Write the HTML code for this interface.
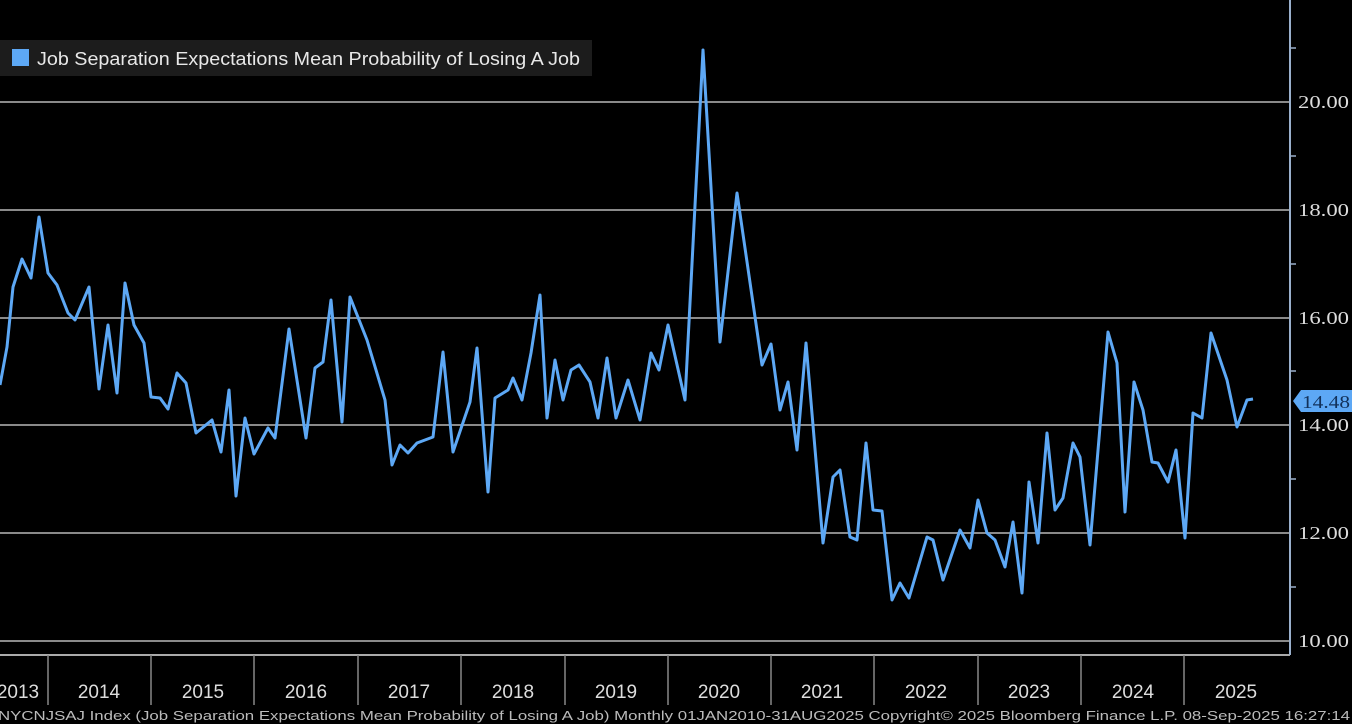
<!DOCTYPE html>
<html><head><meta charset="utf-8"><style>
html,body{margin:0;padding:0;background:#000;}
body{width:1352px;height:724px;overflow:hidden;position:relative;font-family:"Liberation Sans",sans-serif;}
</style></head><body>
<svg width="1352" height="724" viewBox="0 0 1352 724" xmlns="http://www.w3.org/2000/svg" style="position:absolute;left:0;top:0">
<rect width="1352" height="724" fill="#000"/>
<g stroke="#8a8a8a" stroke-width="2">
<line x1="0" y1="102" x2="1290" y2="102"/>
<line x1="0" y1="210" x2="1290" y2="210"/>
<line x1="0" y1="318" x2="1290" y2="318"/>
<line x1="0" y1="425" x2="1290" y2="425"/>
<line x1="0" y1="533" x2="1290" y2="533"/>
<line x1="0" y1="641" x2="1290" y2="641"/>
</g>
<line x1="0" y1="655" x2="1290" y2="655" stroke="#aaa" stroke-width="2"/>
<g stroke="#888" stroke-width="1.5">
<line x1="48" y1="655" x2="48" y2="705"/><line x1="151" y1="655" x2="151" y2="705"/>
<line x1="254" y1="655" x2="254" y2="705"/><line x1="358" y1="655" x2="358" y2="705"/>
<line x1="461" y1="655" x2="461" y2="705"/><line x1="565" y1="655" x2="565" y2="705"/>
<line x1="668" y1="655" x2="668" y2="705"/><line x1="771" y1="655" x2="771" y2="705"/>
<line x1="874" y1="655" x2="874" y2="705"/><line x1="978" y1="655" x2="978" y2="705"/>
<line x1="1081" y1="655" x2="1081" y2="705"/><line x1="1184" y1="655" x2="1184" y2="705"/>
</g>
<line x1="1290" y1="0" x2="1290" y2="655" stroke="#9ab0cc" stroke-width="2"/>
<g stroke="#9ab0cc" stroke-width="1.5">
<line x1="1290" y1="48" x2="1296" y2="48"/><line x1="1290" y1="156" x2="1296" y2="156"/>
<line x1="1290" y1="264" x2="1296" y2="264"/><line x1="1290" y1="371" x2="1296" y2="371"/>
<line x1="1290" y1="479" x2="1296" y2="479"/><line x1="1290" y1="587" x2="1296" y2="587"/>
</g>
<g fill="#ddd" font-family="Liberation Serif, serif" font-size="18">
<text x="1298" y="108" textLength="51" lengthAdjust="spacingAndGlyphs">20.00</text><text x="1298" y="216" textLength="51" lengthAdjust="spacingAndGlyphs">18.00</text>
<text x="1298" y="324" textLength="51" lengthAdjust="spacingAndGlyphs">16.00</text><text x="1298" y="431" textLength="51" lengthAdjust="spacingAndGlyphs">14.00</text>
<text x="1298" y="539" textLength="51" lengthAdjust="spacingAndGlyphs">12.00</text><text x="1298" y="647" textLength="51" lengthAdjust="spacingAndGlyphs">10.00</text>
</g>
<g fill="#ddd" font-family="Liberation Sans, sans-serif" font-size="19" text-anchor="middle">
<text x="18" y="698">2013</text><text x="99" y="698">2014</text><text x="203" y="698">2015</text>
<text x="306" y="698">2016</text><text x="409" y="698">2017</text><text x="513" y="698">2018</text>
<text x="616" y="698">2019</text><text x="719" y="698">2020</text><text x="822" y="698">2021</text>
<text x="926" y="698">2022</text><text x="1029" y="698">2023</text><text x="1133" y="698">2024</text>
<text x="1236" y="698">2025</text>
</g>
<polyline fill="none" stroke="#5da8f5" stroke-width="3" stroke-linejoin="round" points="0,385 7,347 13,287 22,259 31,278 39,217 48,273 57,285 68,313 75,320 89,287 99,389 108,325 117,393 125,283 134,325 144,343 151,397 160,398 168,409 177,373 186,383 196,433 212,420 221,452 229,390 236,496 245,418 254,454 268,428 275,438 289,329 306,438 315,368 323,362 331,300 342,422 350,297 367,340 385,400 392,465 400,445 408,453 417,443 433,437 443,352 453,452 470,402 477,348 488,492 495,398 508,390 513,378 522,400 531,353 540,295 547,418 555,360 563,400 571,370 579,365 590,382 598,418 607,358 616,418 628,380 640,420 651,353 659,370 668,325 685,400 703,50 720,342 737,193 762,365 771,344 780,410 788,382 797,450 806,343 823,543 833,477 840,470 850,537 857,540 866,443 873,510 882,511 892,600 900,583 909,598 927,537 933,540 943,580 960,530 970,548 978,500 987,533 995,540 1005,567 1013,522 1022,593 1029,482 1038,543 1047,433 1055,510 1063,498 1073,443 1080,457 1090,545 1108,332 1117,363 1125,512 1134,382 1143,410 1152,462 1158,463 1168,482 1176,450 1185,538 1193,413 1202,418 1211,333 1227,380 1237,427 1247,400 1253,399"/>
<rect x="0" y="40" width="592" height="36" fill="#1c1c1c"/>
<rect x="12" y="49" width="17" height="17" fill="#5da8f5"/>
<text x="37" y="65" fill="#e8e8e8" font-family="Liberation Sans, sans-serif" font-size="18" textLength="543" lengthAdjust="spacingAndGlyphs">Job Separation Expectations Mean Probability of Losing A Job</text>
<path d="M1293,401 L1301,390 L1352,390 L1352,412 L1301,412 Z" fill="#5da8f5"/>
<text x="1302" y="408" fill="#12315a" font-family="Liberation Serif, serif" font-size="18" textLength="48" lengthAdjust="spacingAndGlyphs">14.48</text>
<text x="-2" y="720" fill="#bbb" font-family="Liberation Sans, sans-serif" font-size="13" textLength="1352" lengthAdjust="spacingAndGlyphs">NYCNJSAJ Index (Job Separation Expectations Mean Probability of Losing A Job)  Monthly 01JAN2010-31AUG2025   Copyright© 2025 Bloomberg Finance L.P.    08-Sep-2025 16:27:14</text>
</svg>
</body></html>
